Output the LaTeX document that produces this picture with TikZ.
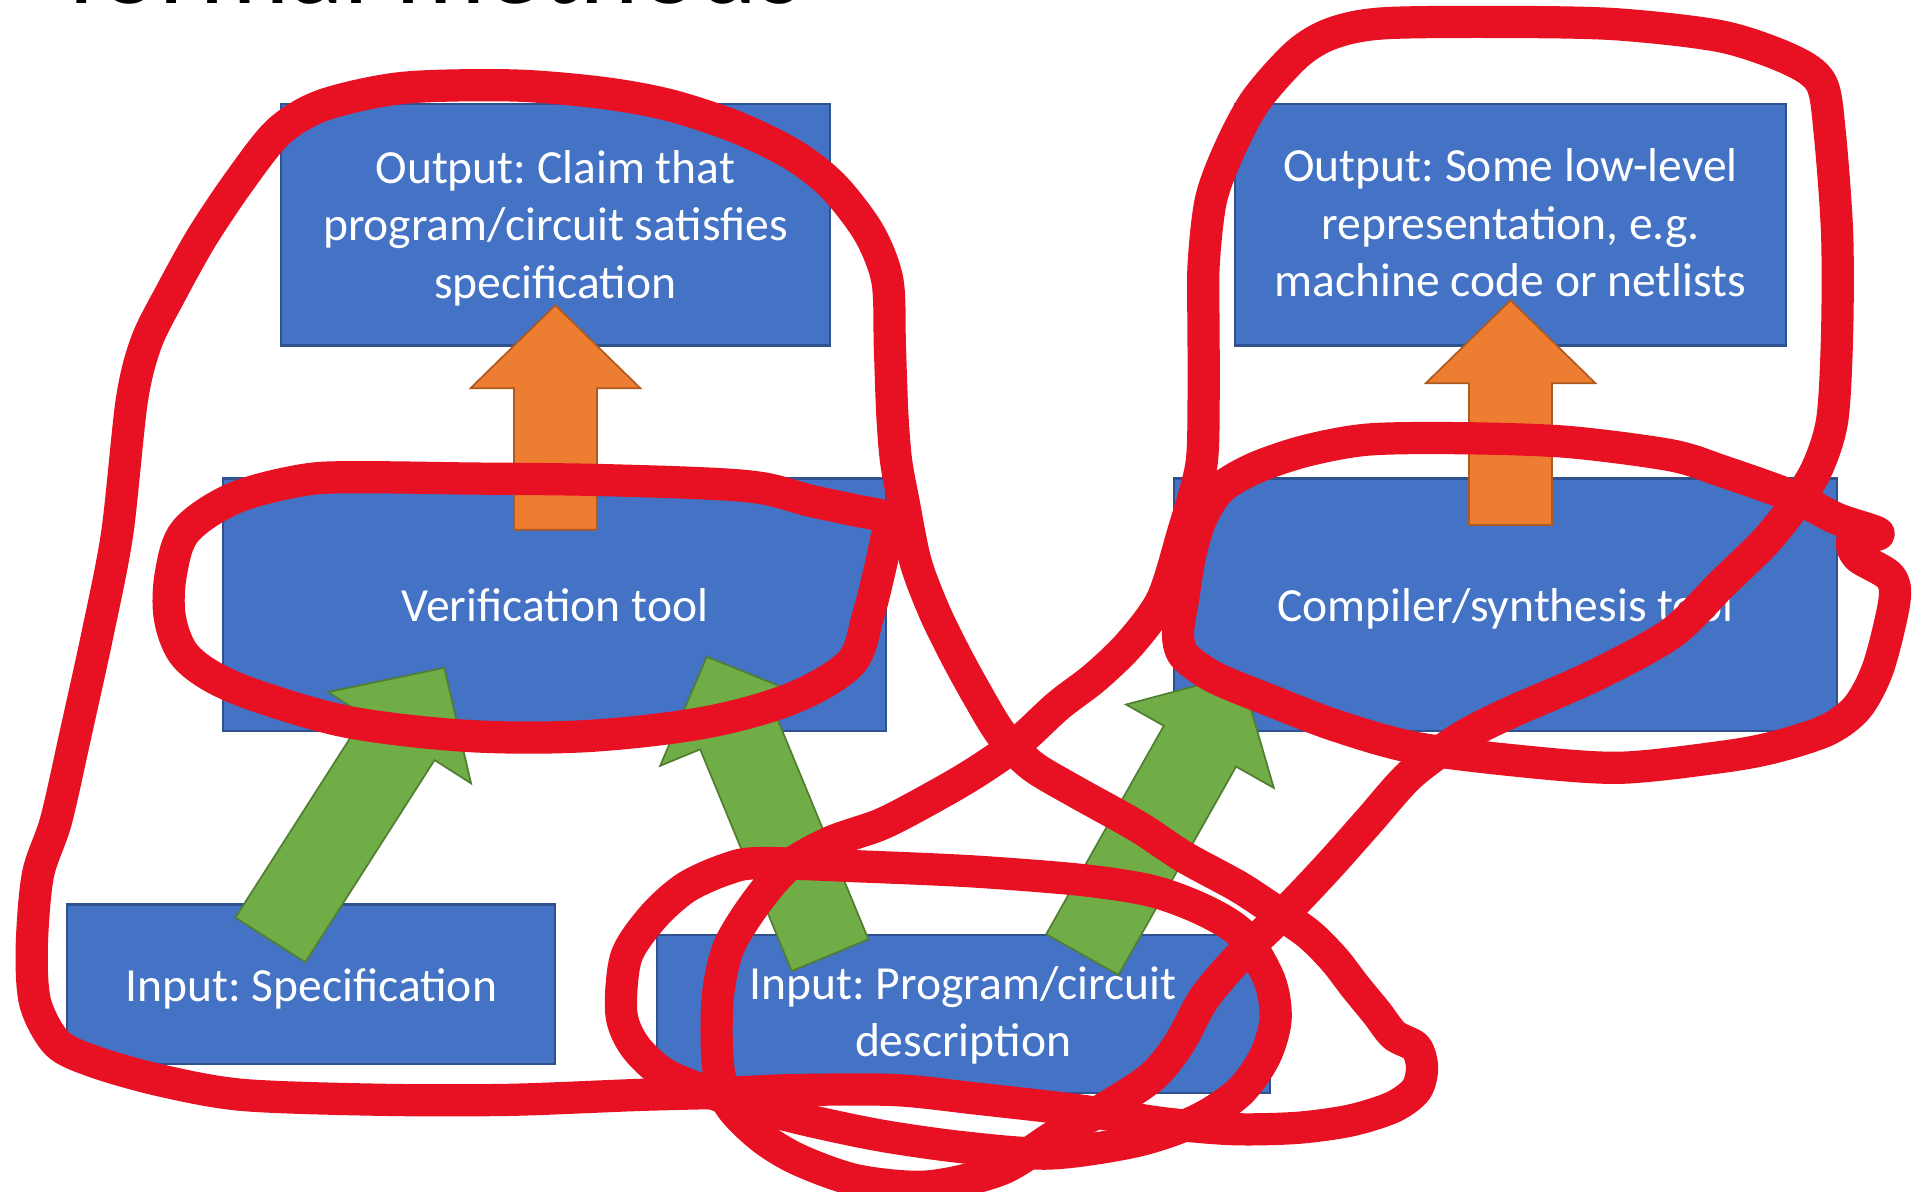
\documentclass[tikz,border=0pt]{standalone}
\usepackage{fontspec}
\setmainfont{Carlito}
\frenchspacing
\definecolor{boxblue}{HTML}{4472C4}
\definecolor{boxline}{HTML}{2F528F}
\definecolor{orfill}{HTML}{ED7D31}
\definecolor{orline}{HTML}{AE5A21}
\definecolor{grfill}{HTML}{70AD47}
\definecolor{grline}{HTML}{507E32}
\definecolor{ink}{RGB}{232,17,35}
\tikzset{
  box/.style={draw=boxline, fill=boxblue, line width=1.2pt, text=white, align=center,
    font=\fontsize{27.7pt}{33.5pt}\selectfont, inner sep=0pt},
  orarrow/.style={fill=orfill, draw=orline, line width=1pt},
  grarrow/.style={fill=grfill, draw=grline, line width=1pt},
  redink/.style={draw=ink, line width=0.66cm, line cap=round, line join=round},
}
% #1 style, #2 tail coordinate, #3 angle, #4 length
\newcommand\blockarrow[4]{%
  \begin{scope}[shift={(#2)}, rotate=#3]
    \filldraw[#1] (0,-34) -- ({#4-68},-34) -- ({#4-68},-69.5) -- (#4,0)
      -- ({#4-68},69.5) -- ({#4-68},34) -- (0,34) -- cycle;
  \end{scope}}
\begin{document}
\begin{tikzpicture}[x=0.025cm, y=-0.025cm]
\useasboundingbox (0,0) rectangle (1568,976);
\clip (0,0) rectangle (1568,976);
\fill[white] (0,0) rectangle (1568,976);

\node[anchor=base west, inner sep=0pt, font=\fontsize{66pt}{70pt}\selectfont] (title) at (55,3) {formal methods};

% boxes
\node[box, minimum width=11.25cm, minimum height=4.95cm, text height=3.22cm, text depth=0.2cm] (claim) at (455,184)
  {Output: Claim that\\program/circuit satisfies\\specification};
\node[box, minimum width=13.575cm, minimum height=5.175cm, text height=0.69cm, text depth=0cm] (verif) at (454.5,495.5) {Verification tool};
\node[box, minimum width=10cm, minimum height=3.275cm, text height=0.695cm, text depth=0cm] (spec) at (255,806.5) {Input: Specification};
\node[box, minimum width=12.55cm, minimum height=3.225cm, text height=1.96cm, text depth=0.2cm] (prog) at (789,830.5)
  {Input: Program/circuit\\description};
\node[box, minimum width=11.275cm, minimum height=4.95cm, text height=2.95cm, text depth=0cm] (lowlvl) at (1237.5,184)
  {Output: Some low-level\\representation, e.g.\\machine code or netlists};
\node[box, minimum width=13.575cm, minimum height=5.175cm, text height=0.69cm, text depth=0cm] (comp) at (1233.5,495.5) {Compiler/synthesis tool};

% block arrows
\coordinate (o1) at (455,434);
\coordinate (o2) at (1237.5,430);
\coordinate (g1) at (221.5,770);
\coordinate (g2) at (680,782.5);
\coordinate (g3) at (886.7,782);
\blockarrow{orarrow}{o1}{90}{184}
\blockarrow{orarrow}{o2}{90}{184}
\blockarrow{grarrow}{g1}{57.42}{264.6}
\blockarrow{grarrow}{g2}{112.44}{264.5}
\blockarrow{grarrow}{g3}{60.57}{264}

% red ink annotations
% verification tool ellipse
\draw[redink] plot[smooth cycle, tension=0.55] coordinates {
 (728,425) (700,418) (663,410) (625,400) (577,396) (480,393) (385,392) (300,391) (250,393)
 (192,408) (152,435) (140,470) (139,505) (150,535) (175,555) (216,572) (288,592)
 (385,603) (481,603) (577,592) (649,572) (697,543) (711,505) (720,470) (726,442)};
% left lasso
\draw[redink] plot[smooth cycle, tension=0.5] coordinates {
 (734,377) (740,410) (750,460) (765,500) (782,535) (800,568) (820,601) (845,627)
 (880,648) (932,677) (970,702) (1014,726) (1043,745) (1072,765) (1093,786)
 (1110,808) (1128,830) (1142,848) (1160,858) (1165,875) (1160,893) (1141,907)
 (1106,918) (1062,924) (1009,925) (952,920) (887,910) (800,900) (733,893) (650,893)
 (600,895) (523,897) (418,901) (314,901) (199,897) (131,885) (78,870) (47,855)
 (29,822) (26,777) (31,717) (46,672) (62,601) (80,519) (96,437) (108,328) (120,280)
 (140,240) (165,195) (195,150) (228,108) (265,86) (330,72) (420,70) (493,76)
 (548,86) (603,104) (650,127) (683,153) (712,191) (727,230) (729,284) (731,339)};
% compiler ellipse
\draw[redink] plot[smooth cycle, tension=0.5] coordinates {
 (1539,437) (1505,425) (1467,406) (1411,386) (1369,373) (1284,362) (1199,359)
 (1122,360) (1071,369) (1029,383) (1000,400) (984,425) (975,455) (969,492)
 (965,519) (970,537) (995,555) (1041,574) (1093,594) (1156,612) (1241,623)
 (1326,629) (1411,620) (1454,612) (1497,598) (1522,579) (1539,546) (1552,492)
 (1548,472) (1522,456) (1518,442)};
% right lasso
\draw[redink] plot[smooth cycle, tension=0.5] coordinates {
 (1492,68) (1499,109) (1505,191) (1505,273) (1501,344) (1488,385) (1467,418)
 (1445,445) (1411,478) (1369,519) (1305,554) (1241,582) (1199,603) (1156,634)
 (1122,672) (1090,708) (1057,743) (1018,781) (987,817) (966,855) (944,882)
 (908,906) (865,930) (820,958) (760,972) (702,967) (654,950) (623,931) (597,904)
 (588,871) (588,817) (597,776) (619,740) (645,710) (680,690) (720,676) (750,661)
 (794,636) (832,610) (867,578) (897,555) (926,527) (952,491) (969,437) (984,382)
 (986,330) (986,273) (986,218) (992,164) (1007,123) (1029,82) (1063,44) (1092,27)
 (1135,19) (1241,18) (1326,20) (1411,30) (1467,49)};
% input program ellipse
\draw[redink] plot[smooth cycle, tension=0.5] coordinates {
 (623,707) (711,710) (799,714) (887,721) (944,730) (987,746) (1018,766) (1040,803)
 (1045,835) (1036,866) (1015,895) (980,918) (930,935) (860,945) (790,940) (720,930)
 (650,915) (590,898) (545,880) (520,857) (509,830) (513,784) (535,751) (562,727)
 (595,712)};
\end{tikzpicture}
\end{document}
